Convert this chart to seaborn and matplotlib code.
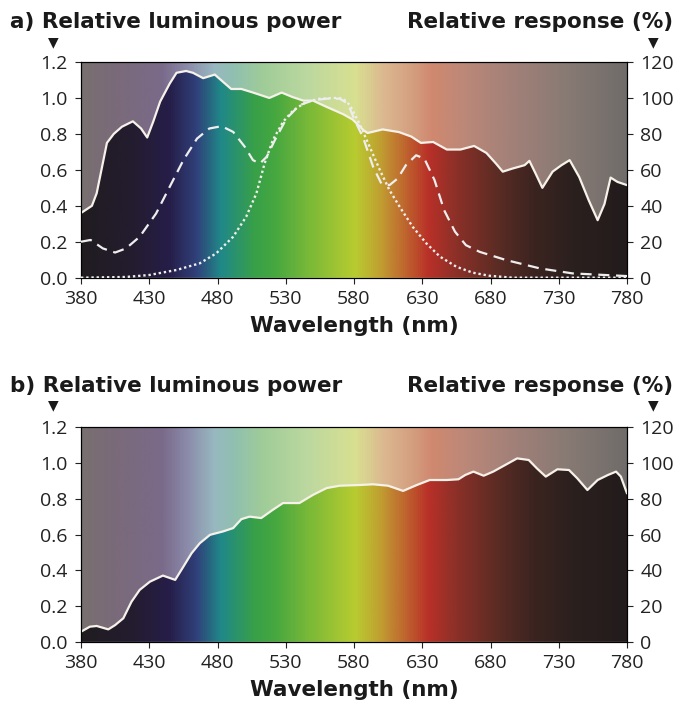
import numpy as np
import matplotlib
matplotlib.use("Agg")
import matplotlib.pyplot as plt
from matplotlib.colors import LinearSegmentedColormap
from matplotlib.patches import Polygon
import seaborn as sns

sns.set_theme(style="ticks")
plt.rcParams.update({
    "font.family": ["Open Sans", "DejaVu Sans"],
    "axes.edgecolor": "black",
    "axes.linewidth": 0.8,
    "xtick.color": "#222222",
    "ytick.color": "#222222",
    "xtick.major.size": 4.5,
    "ytick.major.size": 4.5,
    "xtick.major.width": 0.8,
    "ytick.major.width": 0.8,
    "xtick.major.pad": 4,
    "ytick.major.pad": 5,
    "xtick.labelsize": 14,
    "ytick.labelsize": 14,
})
BOLD = "DejaVu Sans"
TITLE_SIZE = 15.5

# ── data: panel a ─────────────────────────────────────────
wl_a = [380, 388, 391.5, 399, 404, 410, 418, 424, 428.5, 433,
        438, 445, 450, 457, 462, 469.5, 478, 484, 490, 497.5,
        506, 518, 527, 535, 543, 550, 560, 572, 579, 583,
        587, 590, 601, 613, 622, 629, 638, 648, 658, 668,
        677, 684, 689, 696, 705, 708.5, 713, 718, 725.5, 732,
        738, 745, 752, 758.5, 763.5, 768, 773, 780]
power_a = [0.36, 0.40, 0.47, 0.75, 0.80, 0.84, 0.87, 0.83, 0.78, 0.87,
           0.98, 1.08, 1.14, 1.15, 1.14, 1.11, 1.13, 1.09, 1.05, 1.05,
           1.03, 1.00, 1.03, 1.005, 0.985, 0.985, 0.95, 0.91, 0.88, 0.85,
           0.82, 0.805, 0.825, 0.81, 0.785, 0.75, 0.755, 0.713, 0.713, 0.733,
           0.694, 0.635, 0.59, 0.607, 0.626, 0.65, 0.58, 0.50, 0.59, 0.626,
           0.654, 0.56, 0.43, 0.32, 0.41, 0.557, 0.533, 0.515]

wl_dash = [380, 387, 396, 405, 413, 423, 435, 445, 455, 465,
           474, 483, 491.5, 500, 506, 511, 516, 522, 530.5, 540,
           550, 560, 569.5, 575.5, 580.5, 586.5, 594, 600, 606, 612,
           618, 625.5, 631.5, 639, 646, 654, 662, 672, 691.5, 716,
           740, 780]
resp_dash = [20, 21, 16.3, 14, 16.3, 22.8, 35.7, 50.6, 65.4, 77.4,
             83, 84.3, 81.1, 72.8, 65.4, 63.5, 67.2, 76.5, 88.5, 95.9,
             98.7, 99.6, 99.6, 96.9, 87.6, 78.3, 61.7, 52.4, 51.5, 55.2,
             62.6, 68.1, 66.3, 54.3, 37.6, 25.6, 18.1, 14.4, 9.8, 5.2,
             2.4, 0.9]

wl_dot = [380, 413, 430, 450, 467, 479, 491.5, 501, 508.5, 514.5,
          520.5, 528, 535.5, 545, 555, 567, 572, 577, 584, 591.5,
          599, 606, 613.5, 623, 633, 643, 655, 667, 679, 696,
          780]
resp_dot = [0, 0.4, 1.5, 4.3, 8, 13.5, 22.8, 33.9, 46.9, 63.5,
            76.5, 86.7, 93.1, 97.8, 99.6, 100, 99.6, 96, 85.7, 72.8,
            59.8, 48.7, 39.4, 28.3, 19.1, 11.7, 6.1, 2.8, 1.1, 0,
            0]

# ── data: panel b ─────────────────────────────────────────
wl_b = [380, 386.5, 391.5, 400, 405, 411, 417, 423, 430.5, 440,
        449, 455, 461, 467, 474.5, 484, 491.5, 497.5, 503.5, 512,
        520.5, 528, 540, 550, 560, 569.5, 584, 594, 605, 616,
        626, 635.5, 648, 656.5, 661.5, 667.5, 675, 682, 691, 699.5,
        708, 714, 720.5, 729, 737.5, 743.5, 751, 758.5, 766, 772,
        775.5, 780]
power_b = [0.056, 0.084, 0.088, 0.069, 0.093, 0.131, 0.224, 0.29, 0.336, 0.37,
           0.346, 0.42, 0.495, 0.551, 0.598, 0.617, 0.636, 0.686, 0.70, 0.692,
           0.738, 0.776, 0.776, 0.822, 0.86, 0.873, 0.877, 0.881, 0.873, 0.844,
           0.877, 0.905, 0.905, 0.909, 0.933, 0.952, 0.929, 0.952, 0.99, 1.026,
           1.017, 0.97, 0.924, 0.965, 0.961, 0.915, 0.849, 0.905, 0.933, 0.952,
           0.924, 0.83]

x_ticks = [380, 430, 480, 530, 580, 630, 680, 730, 780]
left_ticks = [0.0, 0.2, 0.4, 0.6, 0.8, 1.0, 1.2]
right_ticks = [0, 20, 40, 60, 80, 100, 120]

# ── spectrum colours (style) ──────────────────────────────
dark_stops = [(380, "#201c20"), (418, "#241c30"), (444, "#261e48"), (464, "#30407a"),
              (482, "#208888"), (507, "#38a048"), (523, "#48a840"), (546, "#78b838"),
              (581, "#b8cc30"), (599, "#c0a030"), (614, "#c07030"), (635, "#b83028"),
              (655, "#8c3028"), (686, "#5a2c24"), (712, "#3c2420"), (742, "#2a201e"),
              (780, "#231c1c")]
light_stops = [(380, "#787070"), (405, "#7a6a7a"), (439, "#7a6a8a"), (456, "#8a88a8"),
               (477, "#98b8c0"), (492, "#90c0b0"), (513, "#a0cc98"), (546, "#bcd8a0"),
               (581, "#d8e090"), (602, "#dcb890"), (622, "#d4a080"), (638, "#d08870"),
               (661, "#bc8878"), (699, "#a08078"), (737, "#887a74"), (780, "#706c6a")]


def make_cmap(name, stops):
    return LinearSegmentedColormap.from_list(
        name, [((w - 380) / 400, c) for w, c in stops])


DARK = make_cmap("dark", dark_stops)
LIGHT = make_cmap("light", light_stops)
grad = np.linspace(0, 1, 800)[None, :]

W, H = 696, 713
fig = plt.figure(figsize=(W / 100, H / 100), dpi=100)


def panel(rect, wl, power, letter, title_base):
    ax = fig.add_axes(rect)
    ext = (380, 780, 0, 1.2)
    ax.imshow(grad, cmap=LIGHT, extent=ext, aspect="auto", origin="lower", zorder=0)
    dark = ax.imshow(grad, cmap=DARK, extent=ext, aspect="auto", origin="lower", zorder=0.5)
    verts = np.column_stack([np.r_[wl, wl[-1], wl[0]], np.r_[power, 0, 0]])
    clip = Polygon(verts, closed=True, transform=ax.transData, fc="none", ec="none")
    ax.add_patch(clip)
    dark.set_clip_path(clip)
    sns.lineplot(x=wl, y=power, ax=ax, color="#f6f2ea", lw=1.6, zorder=3)
    ax.set_xlim(380, 780)
    ax.set_ylim(0, 1.2)
    ax.set_xticks(x_ticks)
    ax.set_yticks(left_ticks)
    ax.set_yticklabels([f"{v:.1f}" for v in left_ticks])
    ax.set_xlabel("Wavelength (nm)", fontsize=TITLE_SIZE, fontweight="bold",
                  family=BOLD, labelpad=6, color="#1a1a1a")
    ax.set_ylabel("")
    ax2 = ax.twinx()
    ax2.set_ylim(0, 120)
    ax2.set_yticks(right_ticks)
    for a in (ax, ax2):
        for s in a.spines.values():
            s.set_visible(True)
            s.set_color("black")
            s.set_linewidth(0.8)
    # titles and markers
    yb = 1 - title_base / H
    fig.text(10 / W, yb, f"{letter}) Relative luminous power", fontsize=TITLE_SIZE,
             fontweight="bold", family=BOLD, ha="left", va="baseline", color="#1a1a1a")
    fig.text(673 / W, yb, "Relative response (%)", fontsize=TITLE_SIZE,
             fontweight="bold", family=BOLD, ha="right", va="baseline", color="#1a1a1a")
    ytri = 1 - (title_base + 14) / H
    fig.text(53 / W, ytri, "▼", fontsize=10, ha="center", va="center",
             family="DejaVu Sans", color="#1a1a1a")
    fig.text(653 / W, ytri, "▼", fontsize=10, ha="center", va="center",
             family="DejaVu Sans", color="#1a1a1a")
    return ax, ax2


ax_a, ax_a2 = panel([81 / W, 1 - 277.7 / H, 546 / W, 215.7 / H], wl_a, power_a, "a", 28.5)
sns.lineplot(x=wl_dash, y=resp_dash, ax=ax_a2, color="#eeeeee", lw=1.6,
             linestyle=(0, (5, 3)), zorder=3)
sns.lineplot(x=wl_dot, y=resp_dot, ax=ax_a2, color="#eeeeee", lw=1.7,
             linestyle=(0, (1, 1.2)), zorder=3)
ax_a2.set_ylim(0, 120)
ax_a2.set_ylabel("")

ax_b, ax_b2 = panel([81 / W, 1 - 641.7 / H, 546 / W, 214.4 / H], wl_b, power_b, "b", 391.7)

fig.savefig("out.png", dpi=100)
